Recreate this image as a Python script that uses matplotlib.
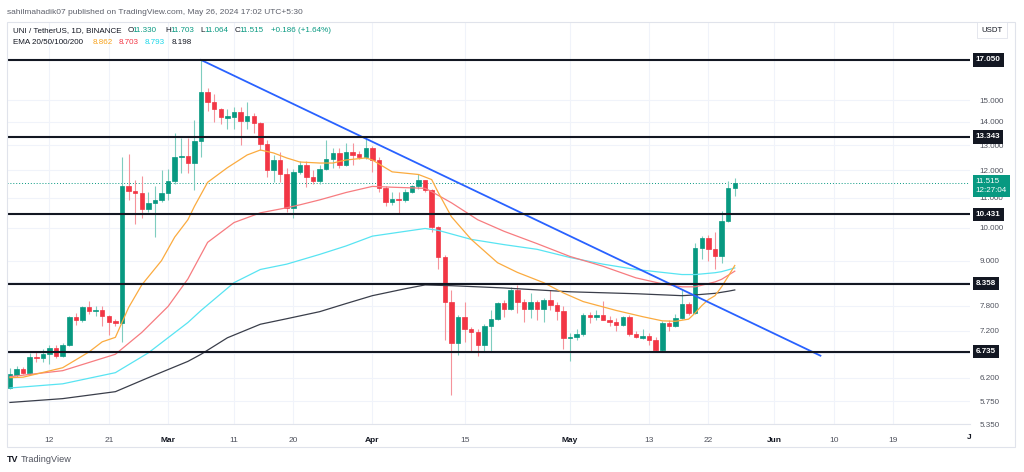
import numpy as np
import pandas as pd
import matplotlib
matplotlib.use("Agg")
import matplotlib.pyplot as plt
import matplotlib.dates as mdates
import matplotlib.transforms as mtransforms
from matplotlib.patches import Rectangle
from matplotlib.ticker import FixedLocator, NullLocator, FuncFormatter

plt.rcParams['font.family'] = ['Liberation Sans', 'DejaVu Sans']

# daily UNI/USDT candles, Feb 6 - May 26 2024
dates = pd.date_range("2024-02-06", "2024-05-26", freq="D")
opens = [6.00, 6.25, 6.38, 6.30, 6.63, 6.60, 6.68, 6.82, 6.65, 6.88, 7.52, 7.44, 7.76, 7.67,
         7.70, 7.55, 7.42, 7.37, 11.40, 11.25, 11.15, 10.60, 10.82, 10.92,
         11.15, 11.58, 12.50, 12.55, 12.30, 13.17, 15.40, 14.90, 14.60, 14.18, 14.20, 14.45,
         14.05, 14.25, 13.95, 13.05, 12.02, 12.40, 11.87, 10.65, 11.95, 12.20, 11.75, 11.60,
         12.05, 12.42, 12.68, 12.20, 12.70, 12.62, 12.52,
         12.88, 12.40, 11.35, 10.85, 10.95, 10.92, 11.20, 11.40, 11.62, 11.28, 10.02, 9.10,
         7.90, 6.92, 7.52, 7.25, 7.18, 6.89, 7.30, 7.48, 7.87, 7.72, 8.20, 7.90, 7.72, 7.90,
         7.72, 7.95, 7.82, 7.67,
         7.04, 7.06, 7.12, 7.58, 7.53, 7.58, 7.46, 7.40, 7.33, 7.52, 7.12, 7.04, 7.08, 7.00,
         6.78, 7.39, 7.32, 7.50, 7.85, 7.63, 9.38, 9.68, 9.33, 9.12, 10.20, 11.330]
highs = [6.40, 6.44, 6.41, 6.71, 6.72, 6.79, 6.89, 6.89, 6.92, 7.55, 7.63, 7.80, 7.92, 7.80,
         7.78, 7.57, 7.48, 12.52, 12.64, 11.65, 11.80, 11.20, 11.40, 12.00,
         12.05, 13.50, 13.30, 13.30, 14.10, 17.05, 15.60, 15.30, 14.65, 14.60, 14.70, 14.70,
         14.90, 14.40, 14.00, 13.20, 12.60, 12.70, 12.10, 12.05, 12.35, 12.35, 12.00, 12.20,
         13.20, 12.90, 12.90, 13.10, 13.10, 12.75, 13.30,
         12.95, 12.50, 11.42, 11.20, 11.20, 11.30, 11.45, 11.85, 11.65, 11.30, 10.05, 9.15,
         8.20, 7.58, 7.90, 7.28, 7.25, 7.36, 7.70, 7.90, 7.95, 8.28, 8.33, 7.97, 8.12, 7.95,
         7.99, 8.20, 7.90, 7.78,
         7.15, 7.25, 7.62, 7.64, 7.70, 7.92, 7.55, 7.50, 7.55, 7.58, 7.20, 7.25, 7.15, 7.05,
         7.42, 7.45, 7.60, 8.20, 7.88, 9.52, 9.72, 9.75, 9.86, 10.54, 11.60, 11.703]
lows = [5.98, 6.22, 6.27, 6.28, 6.52, 6.52, 6.48, 6.60, 6.62, 6.86, 7.33, 7.40, 7.60, 7.55,
        7.30, 7.10, 7.32, 6.95, 10.92, 10.10, 10.30, 10.50, 9.70, 10.85,
        10.90, 11.50, 11.90, 11.90, 11.28, 12.50, 14.50, 14.00, 13.90, 13.70, 13.70, 13.00,
        13.70, 13.50, 12.80, 11.75, 11.55, 11.55, 10.50, 10.30, 11.85, 11.37, 11.50, 11.50,
        12.00, 12.10, 12.10, 12.15, 12.20, 12.45, 12.45,
        11.95, 11.20, 10.70, 10.75, 10.45, 10.85, 11.18, 11.30, 11.21, 9.85, 8.75, 7.00,
        5.86, 6.66, 6.95, 6.73, 6.65, 6.74, 6.73, 7.46, 7.53, 7.70, 7.63, 7.41, 7.50, 7.46,
        7.41, 7.70, 7.46, 6.80,
        6.53, 6.98, 7.08, 7.38, 7.46, 7.45, 7.30, 7.20, 7.30, 7.08, 7.03, 7.02, 6.88, 6.76,
        6.75, 7.20, 7.28, 7.48, 7.58, 7.60, 9.05, 9.00, 8.75, 8.94, 10.18, 11.064]
closes = [6.28, 6.37, 6.30, 6.63, 6.60, 6.68, 6.82, 6.65, 6.88, 7.52, 7.44, 7.76, 7.67, 7.70,
          7.55, 7.40, 7.37, 11.40, 11.25, 11.15, 10.60, 10.82, 10.92, 11.15,
          11.58, 12.52, 12.55, 12.30, 13.17, 15.40, 14.90, 14.60, 14.20, 14.25, 14.45, 14.05,
          14.25, 13.95, 13.05, 12.02, 12.40, 11.87, 10.65, 11.95, 12.20, 11.75, 11.60, 12.05,
          12.42, 12.68, 12.20, 12.70, 12.60, 12.52, 12.88,
          12.40, 11.35, 10.85, 10.95, 10.92, 11.20, 11.40, 11.62, 11.28, 10.02, 9.10, 7.90,
          6.92, 7.52, 7.25, 7.18, 6.89, 7.30, 7.48, 7.87, 7.72, 8.20, 7.90, 7.72, 7.90, 7.72,
          7.95, 7.82, 7.67, 7.04,
          7.06, 7.12, 7.58, 7.53, 7.58, 7.46, 7.40, 7.33, 7.52, 7.12, 7.05, 7.08, 7.00, 6.78,
          7.39, 7.32, 7.50, 7.85, 7.63, 9.38, 9.68, 9.33, 9.12, 10.20, 11.33, 11.515]

# EMA curves, sampled off the chart
ema20_d = ["2024-02-06", "2024-02-08", "2024-02-14", "2024-02-18", "2024-02-20", "2024-02-22",
           "2024-02-24", "2024-02-26", "2024-02-29", "2024-03-02", "2024-03-04", "2024-03-05",
           "2024-03-07", "2024-03-10", "2024-03-13", "2024-03-15", "2024-03-17", "2024-03-19",
           "2024-03-21", "2024-03-24", "2024-03-26", "2024-03-28", "2024-03-31", "2024-04-01",
           "2024-04-04", "2024-04-08", "2024-04-10", "2024-04-11", "2024-04-13", "2024-04-16",
           "2024-04-20", "2024-04-23", "2024-04-27", "2024-04-30", "2024-05-03", "2024-05-08",
           "2024-05-12", "2024-05-15", "2024-05-17", "2024-05-19", "2024-05-20", "2024-05-21",
           "2024-05-22", "2024-05-23", "2024-05-24", "2024-05-25", "2024-05-26"]
ema20_v = [6.20, 6.21, 6.40, 6.73, 6.95, 7.05, 7.75, 8.33, 9.00, 9.70, 10.25, 10.70,
           11.55, 12.10, 12.60, 12.80, 12.68, 12.48, 12.32, 12.28, 12.28, 12.40, 12.48, 12.40,
           11.94, 11.84, 11.65, 11.18, 10.35, 9.63, 8.94, 8.67, 8.39, 8.12, 7.90, 7.68,
           7.53, 7.43, 7.42, 7.47, 7.62, 7.80, 7.95, 8.05, 8.28, 8.56, 8.862]
ema50_d = ["2024-02-06", "2024-02-14", "2024-02-22", "2024-02-26", "2024-03-01", "2024-03-04",
           "2024-03-07", "2024-03-11", "2024-03-15", "2024-03-19", "2024-03-21", "2024-03-24",
           "2024-03-28", "2024-04-01", "2024-04-04", "2024-04-09", "2024-04-10", "2024-04-13",
           "2024-04-17", "2024-04-21", "2024-04-26", "2024-05-01", "2024-05-06", "2024-05-11",
           "2024-05-15", "2024-05-18", "2024-05-20", "2024-05-23", "2024-05-24", "2024-05-25",
           "2024-05-26"]
ema50_v = [6.22, 6.34, 6.68, 7.16, 7.78, 8.49, 9.54, 10.16, 10.48, 10.65, 10.75, 10.92,
           11.18, 11.40, 11.37, 11.33, 11.21, 10.82, 10.25, 9.88, 9.50, 9.12, 8.84, 8.52,
           8.36, 8.28, 8.28, 8.41, 8.48, 8.59, 8.703]
ema100_d = ["2024-02-06", "2024-02-14", "2024-02-22", "2024-02-27", "2024-03-04", "2024-03-06",
            "2024-03-11", "2024-03-15", "2024-03-19", "2024-03-24", "2024-03-28", "2024-04-01",
            "2024-04-06", "2024-04-09", "2024-04-11", "2024-04-16", "2024-04-21", "2024-04-26",
            "2024-05-01", "2024-05-06", "2024-05-11", "2024-05-18", "2024-05-20", "2024-05-23",
            "2024-05-24", "2024-05-25", "2024-05-26"]
ema100_v = [6.00, 6.08, 6.30, 6.71, 7.39, 7.68, 8.39, 8.75, 8.90, 9.18, 9.43, 9.73,
            9.88, 9.97, 9.91, 9.63, 9.47, 9.33, 9.09, 8.90, 8.75, 8.61, 8.61, 8.66,
            8.69, 8.74, 8.793]
ema200_d = ["2024-02-06", "2024-02-14", "2024-02-22", "2024-02-27", "2024-03-04", "2024-03-06",
            "2024-03-10", "2024-03-15", "2024-03-19", "2024-03-24", "2024-03-28", "2024-04-01",
            "2024-04-06", "2024-04-09", "2024-04-13", "2024-04-21", "2024-05-01", "2024-05-11",
            "2024-05-18", "2024-05-20", "2024-05-23", "2024-05-25", "2024-05-26"]
ema200_v = [5.73, 5.80, 5.93, 6.20, 6.53, 6.68, 7.04, 7.35, 7.48, 7.65, 7.85, 8.05,
            8.23, 8.33, 8.31, 8.25, 8.15, 8.10, 8.05, 8.07, 8.11, 8.165, 8.198]

levels = [17.050, 13.343, 10.431, 8.358, 6.735]
last_price = 11.515
trend_d = ["2024-03-06", "2024-06-08"]
trend_v = [17.05, 6.65]

price_ticks = [5.35, 5.75, 6.2, 6.7, 7.2, 7.8, 8.4, 9, 10, 11, 12, 13, 14, 15]
hidden_ticks = [6.7, 8.4]   # covered by the level tags on the scale
date_ticks = ["2024-02-12", "2024-02-21", "2024-03-01", "2024-03-11", "2024-03-20", "2024-04-01",
              "2024-04-15", "2024-05-01", "2024-05-13", "2024-05-22", "2024-06-01", "2024-06-10",
              "2024-06-19"]
date_labels = ["12", "21", "Mar", "11", "20", "Apr", "15", "May", "13", "22", "Jun", "10", "19"]

UP, DOWN = '#089981', '#f23645'
UP_W, DOWN_W = '#7fcdbf', '#f5939b'
TXT = '#131722'
GRID = '#f0f3fa'

W, H = 1024, 472
def fx(x):
    return x / W
def fy(y):
    return 1 - y / H

fig = plt.figure(figsize=(W / 100, H / 100), dpi=100)
fig.patch.set_facecolor('white')
ax = fig.add_axes([fx(7), fy(424), fx(970) - fx(7), fy(22) - fy(424)])
ax.set_yscale('log')

x = mdates.date2num(dates)
o = np.array(opens); h = np.array(highs); l = np.array(lows); c = np.array(closes)
rising = c >= o
body_col = np.where(rising, UP, DOWN)
wick_col = np.where(rising, UP_W, DOWN_W)

ax.vlines(x, l, h, colors=wick_col, lw=0.8, zorder=3)
ax.bar(x, np.abs(c - o), bottom=np.minimum(o, c), width=0.68, color=body_col,
       edgecolor=body_col, linewidth=0.5, zorder=4)

for d, v, col in [(ema200_d, ema200_v, '#3a3e4a'), (ema100_d, ema100_v, '#58e4f2'),
                  (ema50_d, ema50_v, '#f77c80'), (ema20_d, ema20_v, '#fbab3f')]:
    ax.plot(mdates.date2num(pd.to_datetime(d)), v, color=col, lw=0.9, zorder=5)

ax.plot(mdates.date2num(pd.to_datetime(trend_d)), trend_v, color='#2962ff', lw=1.3, zorder=6)

for lv in levels:
    ax.axhline(lv, color=TXT, lw=1.5, zorder=6)
ax.axhline(last_price, color=UP, lw=0.7, ls=(0, (1, 2)), zorder=2)

x0 = mdates.date2num(pd.Timestamp("2024-02-06"))
ax.set_xlim(x0 - 0.45, x0 + 145.7)
ax.set_ylim(5.35, 19.24)

ax.yaxis.tick_right()
ax.yaxis.set_major_locator(FixedLocator(price_ticks))
ax.yaxis.set_minor_locator(NullLocator())
ax.yaxis.set_major_formatter(FuncFormatter(
    lambda v, p: "" if any(abs(v - t) < 1e-6 for t in hidden_ticks) else f"{v:.3f}"))
ax.tick_params(axis='y', length=0, pad=7, labelsize=5.8, labelcolor='#50535e')

ax.xaxis.set_major_locator(FixedLocator(mdates.date2num(pd.to_datetime(date_ticks))))
ax.xaxis.set_minor_locator(NullLocator())
ax.set_xticklabels(date_labels)
ax.tick_params(axis='x', length=0, pad=9, labelsize=6, labelcolor='#50535e')
for t in ax.get_xticklabels():
    if t.get_text() in ("Mar", "Apr", "May", "Jun"):
        t.set_color(TXT)
        t.set_fontweight('bold')
ax.text(mdates.date2num(pd.Timestamp("2024-07-01")), -0.0325, "J", transform=ax.get_xaxis_transform(),
        ha='right', va='center', fontsize=6, color=TXT, fontweight='bold')

ax.grid(True, color=GRID, lw=0.8, zorder=0)
ax.set_axisbelow(True)
for s in ax.spines.values():
    s.set_visible(False)
ax.spines['bottom'].set_visible(True)
ax.spines['bottom'].set_color('#e0e3eb')
ax.spines['bottom'].set_linewidth(0.8)

# price scale labels
blend = mtransforms.blended_transform_factory(ax.transAxes, ax.transData)
for lv in levels:
    ax.text(1.006, lv, f"{lv:.3f}", transform=blend, ha='left', va='center', color='white',
            fontsize=5.8, fontweight='bold', zorder=10, clip_on=False,
            bbox=dict(boxstyle='square,pad=0.38', fc=TXT, ec='none'))
up_shift = blend + mtransforms.ScaledTranslation(0, 3.6 / 72, fig.dpi_scale_trans)
ax.text(1.006, last_price, f"{last_price:.3f}\n12:27:04", transform=up_shift, ha='left', va='top',
        color='white', fontsize=5.8, linespacing=1.35, zorder=10, clip_on=False,
        bbox=dict(boxstyle='square,pad=0.4', fc=UP, ec='none'))

# frame and header texts
fig.patches.append(Rectangle((fx(7), fy(447)), fx(1015) - fx(7), fy(22) - fy(447),
                             transform=fig.transFigure, fill=False, ec='#e0e3eb', lw=0.8))
fig.text(fx(992), fy(30), "USDT", ha='center', va='center', fontsize=5.6, color=TXT,
         bbox=dict(boxstyle='square,pad=0.6', fc='white', ec='#e0e3eb', lw=0.6))
fig.text(fx(7), fy(12), "sahilmahadik07 published on TradingView.com, May 26, 2024 17:02 UTC+5:30",
         ha='left', va='center', fontsize=6.0, color='#5d606b')

row1 = [("UNI / TetherUS, 1D, BINANCE", 13, TXT), ("O", 128, TXT), ("11.330", 132.5, UP),
        ("H", 165, TXT), ("11.703", 170, UP), ("L", 200.5, TXT), ("11.064", 204, UP),
        ("C", 234.5, TXT), ("11.515", 239, UP), ("+0.186 (+1.64%)", 271, UP)]
row2 = [("EMA 20/50/100/200", 13, TXT), ("8.862", 93, '#f7a21b'), ("8.703", 119, DOWN),
        ("8.793", 145, '#19d6e8'), ("8.198", 172, TXT)]
for txt, px, col in row1:
    fig.text(fx(px), fy(31), txt, ha='left', va='center', fontsize=5.8, color=col)
for txt, px, col in row2:
    fig.text(fx(px), fy(43), txt, ha='left', va='center', fontsize=5.8, color=col)

fig.text(fx(7), fy(460), "TV", ha='left', va='center', fontsize=6.5, fontweight='heavy', color=TXT)
fig.text(fx(21), fy(460), "TradingView", ha='left', va='center', fontsize=6.6, color='#50535e')

fig.savefig("out.png", dpi=100, facecolor='white')
